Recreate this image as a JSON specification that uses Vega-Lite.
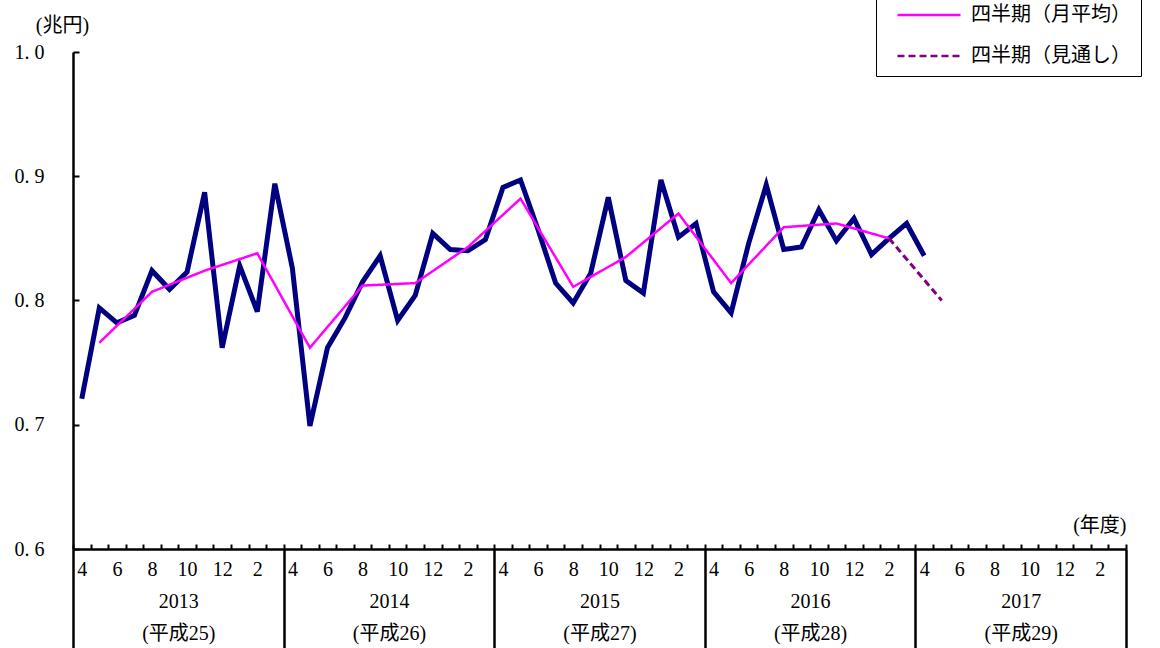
{
  "$schema": "https://vega.github.io/schema/vega-lite/v6.json",
  "width": 1053,
  "height": 497,
  "autosize": {"type": "none"},
  "padding": {"left": 73, "top": 52, "right": 34, "bottom": 99},
  "background": "white",
  "config": {
    "view": {"stroke": null},
    "font": "Liberation Serif, Noto Sans CJK JP",
    "axis": {"grid": false, "domainColor": "black", "tickColor": "black", "labelColor": "black", "titleColor": "black"},
    "legend": {
      "title": null, "orient": "none", "legendX": 803, "legendY": -57,
      "padding": 10, "strokeColor": "black", "fillColor": "white",
      "clipHeight": 20, "rowPadding": 21, "symbolType": "stroke", "symbolSize": 3969,
      "symbolStrokeWidth": 2.5, "symbolOffset": 10, "labelOffset": 9,
      "labelFont": "Noto Sans CJK JP", "labelFontSize": 20, "labelColor": "black"
    }
  },
  "datasets": {
    "monthly": [
      {"i": 0, "v": 0.721}, {"i": 1, "v": 0.794}, {"i": 2, "v": 0.782}, {"i": 3, "v": 0.788},
      {"i": 4, "v": 0.824}, {"i": 5, "v": 0.809}, {"i": 6, "v": 0.823}, {"i": 7, "v": 0.887},
      {"i": 8, "v": 0.762}, {"i": 9, "v": 0.828}, {"i": 10, "v": 0.791}, {"i": 11, "v": 0.894},
      {"i": 12, "v": 0.826}, {"i": 13, "v": 0.699}, {"i": 14, "v": 0.762}, {"i": 15, "v": 0.786},
      {"i": 16, "v": 0.815}, {"i": 17, "v": 0.836}, {"i": 18, "v": 0.784}, {"i": 19, "v": 0.804},
      {"i": 20, "v": 0.854}, {"i": 21, "v": 0.841}, {"i": 22, "v": 0.840}, {"i": 23, "v": 0.849},
      {"i": 24, "v": 0.891}, {"i": 25, "v": 0.897}, {"i": 26, "v": 0.857}, {"i": 27, "v": 0.814},
      {"i": 28, "v": 0.798}, {"i": 29, "v": 0.822}, {"i": 30, "v": 0.883}, {"i": 31, "v": 0.816},
      {"i": 32, "v": 0.806}, {"i": 33, "v": 0.897}, {"i": 34, "v": 0.851}, {"i": 35, "v": 0.862},
      {"i": 36, "v": 0.807}, {"i": 37, "v": 0.790}, {"i": 38, "v": 0.846}, {"i": 39, "v": 0.893},
      {"i": 40, "v": 0.841}, {"i": 41, "v": 0.843}, {"i": 42, "v": 0.873}, {"i": 43, "v": 0.848},
      {"i": 44, "v": 0.866}, {"i": 45, "v": 0.837}, {"i": 46, "v": 0.850}, {"i": 47, "v": 0.862},
      {"i": 48, "v": 0.836}
    ],
    "quarterly": [
      {"i": 1, "v": 0.766, "s": "四半期（月平均）"}, {"i": 4, "v": 0.807, "s": "四半期（月平均）"},
      {"i": 7, "v": 0.824, "s": "四半期（月平均）"}, {"i": 10, "v": 0.838, "s": "四半期（月平均）"},
      {"i": 13, "v": 0.762, "s": "四半期（月平均）"}, {"i": 16, "v": 0.812, "s": "四半期（月平均）"},
      {"i": 19, "v": 0.814, "s": "四半期（月平均）"}, {"i": 22, "v": 0.843, "s": "四半期（月平均）"},
      {"i": 25, "v": 0.882, "s": "四半期（月平均）"}, {"i": 28, "v": 0.811, "s": "四半期（月平均）"},
      {"i": 31, "v": 0.835, "s": "四半期（月平均）"}, {"i": 34, "v": 0.870, "s": "四半期（月平均）"},
      {"i": 37, "v": 0.814, "s": "四半期（月平均）"}, {"i": 40, "v": 0.859, "s": "四半期（月平均）"},
      {"i": 43, "v": 0.862, "s": "四半期（月平均）"}, {"i": 46, "v": 0.850, "s": "四半期（月平均）"}
    ],
    "forecast": [
      {"i": 46, "v": 0.850, "s": "四半期（見通し）"}, {"i": 49, "v": 0.800, "s": "四半期（見通し）"}
    ]
  },
  "resolve": {"axis": {"x": "independent", "y": "independent"}},
  "layer": [
    {
      "data": {"name": "monthly"},
      "mark": {"type": "line", "color": "#000080", "strokeWidth": 5},
      "encoding": {
        "x": {
          "field": "i", "type": "quantitative",
          "scale": {"domain": [-0.5, 59.5], "nice": false, "zero": false},
          "axis": {
            "orient": "bottom",
            "values": [-0.5,0.5,1.5,2.5,3.5,4.5,5.5,6.5,7.5,8.5,9.5,10.5,11.5,12.5,13.5,14.5,15.5,16.5,17.5,18.5,19.5,20.5,21.5,22.5,23.5,24.5,25.5,26.5,27.5,28.5,29.5,30.5,31.5,32.5,33.5,34.5,35.5,36.5,37.5,38.5,39.5,40.5,41.5,42.5,43.5,44.5,45.5,46.5,47.5,48.5,49.5,50.5,51.5,52.5,53.5,54.5,55.5,56.5,57.5,58.5,59.5],
            "tickSize": -5, "tickWidth": 2, "domainWidth": 2.5, "labels": false, "grid": false,
            "title": "(年度)", "titleX": 1053, "titleY": -24, "titleAlign": "right",
            "titleBaseline": "middle", "titleAngle": 0, "titleFontSize": 20, "titleFontWeight": "normal"
          }
        },
        "y": {
          "field": "v", "type": "quantitative",
          "scale": {"domain": [0.6, 1.0], "nice": false, "zero": false},
          "axis": {
            "orient": "left",
            "values": [0.6, 0.7, 0.8, 0.9, 1.0],
            "tickSize": -6, "tickWidth": 2, "domainWidth": 2.5,
            "labelExpr": "replace(format(datum.value, '.1f'), '.', '. ')",
            "labelFontSize": 20, "labelPadding": 35, "labelBaseline": "middle", "grid": false,
            "title": "(兆円)", "titleAngle": 0, "titleX": -11, "titleY": -27,
            "titleAlign": "center", "titleBaseline": "middle", "titleFontSize": 20, "titleFontWeight": "normal"
          }
        }
      }
    },
    {
      "data": {"name": "quarterly"},
      "mark": {"type": "line", "strokeWidth": 2.5},
      "encoding": {
        "x": {
          "field": "i", "type": "quantitative",
          "scale": {"domain": [-0.5, 59.5], "nice": false, "zero": false},
          "axis": {
            "orient": "bottom",
            "values": [-0.5, 11.5, 23.5, 35.5, 47.5, 59.5],
            "tickSize": 99, "tickWidth": 2.5, "domain": false, "labels": false, "grid": false, "title": null
          }
        },
        "y": {"field": "v", "type": "quantitative", "axis": null},
        "color": {
          "field": "s", "type": "nominal",
          "scale": {"domain": ["四半期（月平均）", "四半期（見通し）"], "range": ["#FF00FF", "#800080"]},
          "legend": {"title": null}
        },
        "strokeDash": {
          "field": "s", "type": "nominal",
          "scale": {"domain": ["四半期（月平均）", "四半期（見通し）"], "range": [[1, 0], [7, 4]]},
          "legend": {"title": null}
        }
      }
    },
    {
      "data": {"name": "forecast"},
      "mark": {"type": "line", "strokeWidth": 3},
      "encoding": {
        "x": {
          "field": "i", "type": "quantitative",
          "scale": {"domain": [-0.5, 59.5], "nice": false, "zero": false},
          "axis": {
            "orient": "bottom",
            "values": [0,2,4,6,8,10,12,14,16,18,20,22,24,26,28,30,32,34,36,38,40,42,44,46,48,50,52,54,56,58,5.5,17.5,29.5,41.5,53.5],
            "ticks": false, "domain": false, "grid": false, "title": null,
            "labelExpr": "datum.value % 1 == 0 ? '' + ((datum.value + 3) % 12 + 1) : ['', '' + (2013 + floor(datum.value / 12)), '(平成' + (25 + floor(datum.value / 12)) + ')']",
            "labelFontSize": 20, "labelBaseline": "top", "labelLineHeight": 32, "labelPadding": 10,
            "labelOverlap": false, "labelFlush": false, "labelBound": false, "labelAlign": "center"
          }
        },
        "y": {"field": "v", "type": "quantitative", "axis": null},
        "color": {
          "field": "s", "type": "nominal",
          "scale": {"domain": ["四半期（月平均）", "四半期（見通し）"], "range": ["#FF00FF", "#800080"]},
          "legend": {"title": null}
        },
        "strokeDash": {
          "field": "s", "type": "nominal",
          "scale": {"domain": ["四半期（月平均）", "四半期（見通し）"], "range": [[1, 0], [7, 4]]},
          "legend": {"title": null}
        }
      }
    }
  ]
}
